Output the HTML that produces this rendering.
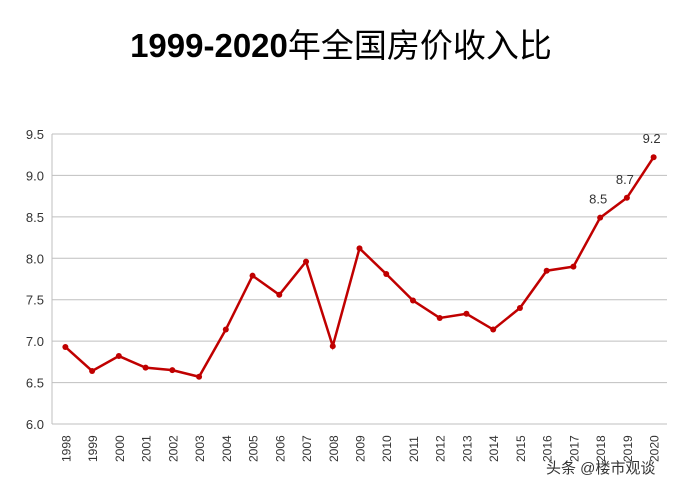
<!DOCTYPE html>
<html><head><meta charset="utf-8"><style>
body{margin:0;background:#fff;width:688px;height:493px;overflow:hidden;font-family:"Liberation Sans","Noto Sans CJK SC",sans-serif}
</style></head><body>
<svg width="688" height="493" xmlns="http://www.w3.org/2000/svg">
<text x="341" y="57" text-anchor="middle" font-size="33" font-family="Liberation Sans, Noto Sans CJK SC, sans-serif"><tspan font-weight="bold">1999-2020</tspan><tspan font-weight="normal">年全国房价收入比</tspan></text>
<g id="grid"></g><g id="axes"></g><g id="series"></g>
<text x="546" y="473" font-size="15" fill="#333" font-family="Liberation Sans, Noto Sans CJK SC, sans-serif">头条 @楼市观谈</text>
</svg>
<script>
const years=["1998","1999","2000","2001","2002","2003","2004","2005","2006","2007","2008","2009","2010","2011","2012","2013","2014","2015","2016","2017","2018","2019","2020"];
const values=[6.93,6.64,6.82,6.68,6.65,6.57,7.14,7.79,7.56,7.96,6.94,8.12,7.81,7.49,7.28,7.33,7.14,7.40,7.85,7.90,8.49,8.73,9.22];
const yTicks=[6.0,6.5,7.0,7.5,8.0,8.5,9.0,9.5];
const labeled={"2018":"8.5","2019":"8.7","2020":"9.2"};
const NS="http://www.w3.org/2000/svg";
const x0=52,x1=667,yTop=134,yBot=424,vMin=6,vMax=9.5;
const step=(x1-x0)/years.length;
const X=i=>x0+step*(i+0.5);
const Y=v=>yBot-(v-vMin)/(vMax-vMin)*(yBot-yTop);
function mk(t,a,p){const e=document.createElementNS(NS,t);for(const k in a)e.setAttribute(k,a[k]);p.appendChild(e);return e;}
const g=document.getElementById('grid'),ax=document.getElementById('axes'),s=document.getElementById('series');
yTicks.forEach(v=>{
 const l=mk('line',{x1:x0,x2:x1,y1:Y(v),y2:Y(v),stroke:'#bfbfbf','stroke-width':1},g);
 
 
 const t=mk('text',{x:x0-8,y:Y(v)+5,'text-anchor':'end','font-size':13,fill:'#333'},ax);
 t.textContent=v.toFixed(1);
 
 
});
const yl=mk('line',{x1:x0,x2:x0,y1:yTop,y2:yBot,stroke:'#bfbfbf'},ax);


years.forEach((yr,i)=>{
 const t=mk('text',{transform:`translate(${X(i)+5},${yBot+38}) rotate(-90)`,'font-size':12,fill:'#333'},ax);
 t.textContent=yr;
 
 
});
const pl=mk('polyline',{points:values.map((v,i)=>X(i)+','+Y(v)).join(' '),fill:'none',stroke:'#c00000','stroke-width':2.5},s);


values.forEach((v,i)=>{
 const c=mk('circle',{cx:X(i),cy:Y(v),r:3,fill:'#c00000'},s);
 
 
 if(labeled[years[i]]){
  const t=mk('text',{x:X(i)-2,y:Y(v)-14,'text-anchor':'middle','font-size':13,fill:'#333'},s);
  t.textContent=labeled[years[i]];
  
  
 }
});
</script>
</body></html>
